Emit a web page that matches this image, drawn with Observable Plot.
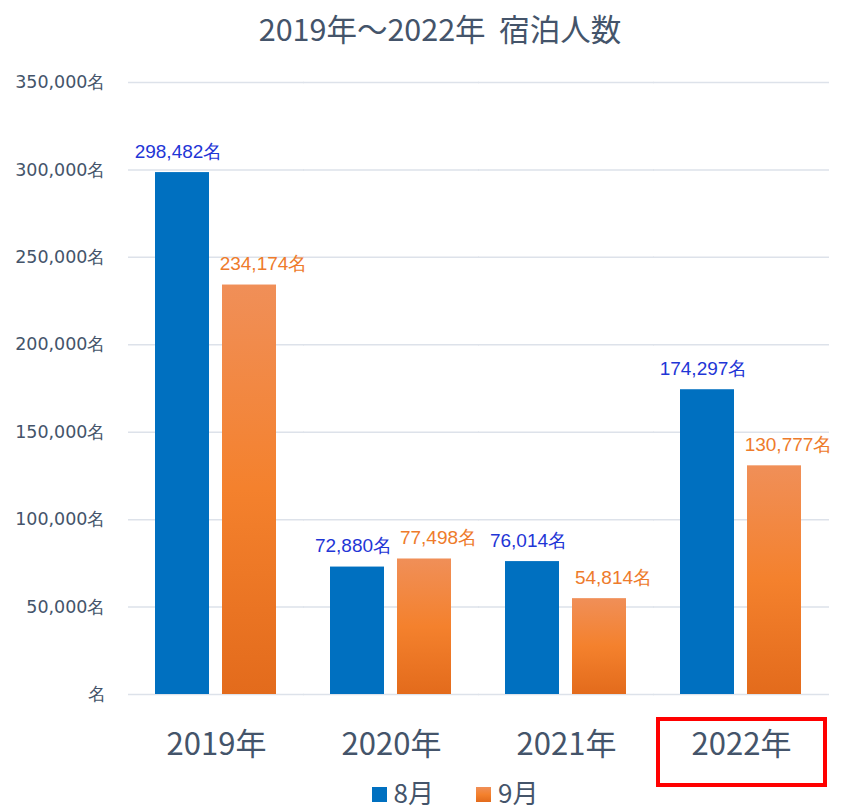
<!DOCTYPE html>
<html>
<head>
<meta charset="utf-8">
<script src="https://cdn.jsdelivr.net/npm/d3@7"></script>
<script src="https://cdn.jsdelivr.net/npm/@observablehq/plot@0.6"></script>
<style>
  html, body { margin: 0; padding: 0; background: #fff; }
  #wrap { position: relative; width: 850px; height: 812px; overflow: hidden; }
  #title { position: absolute; left: 0; top: 0; width: 850px; height: 56px; line-height: 56px;
    text-align: center; padding-left: 30px; box-sizing: border-box;
    font-family: "Noto Sans CJK JP", sans-serif; font-size: 30.5px; color: #44546a; white-space: pre; }
  #chart { position: absolute; left: 0; top: 56px; }
  #chart svg [aria-label^="y-axis"] text { font-family: "DejaVu Sans", sans-serif; font-size: 17.5px; fill: #44546a; }
  #chart svg [aria-label^="fx-axis"] text { font-family: "Noto Sans CJK JP", sans-serif; font-size: 31px; fill: #44546a; }
  #legend { position: absolute; left: 0; top: 778px; width: 850px; height: 28px; display: flex;
    align-items: center; justify-content: center; padding-left: 60px; box-sizing: border-box;
    font-family: "Noto Sans CJK JP", sans-serif; font-size: 26px; color: #44546a; }
  .item { display: flex; align-items: center; margin: 0 21px; height: 28px; }
  .item span { display: block; line-height: 26px; height: 26px; }
  .sw { width: 15px; height: 15px; margin-right: 7px; margin-top: 4px; }
</style>
</head>
<body>
<div id="wrap">
  <div id="title"></div>
  <div id="chart"></div>
  <div id="legend"></div>
</div>
<script>
const titleText = "2019年〜2022年  宿泊人数";
const years = ["2019年", "2020年", "2021年", "2022年"];
const months = ["8月", "9月"];
const aug = [298482, 72880, 76014, 174297];
const sep = [234174, 77498, 54814, 130777];
const yTicks = [0, 50000, 100000, 150000, 200000, 250000, 300000, 350000];
const highlightYear = "2022年";

const blue = "#0070c0";
const labelBlue = "#1f36d6";
const labelOrange = "#ee7b2b";

const rows = [];
years.forEach((y, i) => {
  rows.push({year: y, month: months[0], value: aug[i]});
  rows.push({year: y, month: months[1], value: sep[i]});
});
const fmt = d3.format(",");
const tickFmt = d => (d === 0 ? "" : fmt(d)) + "名";

document.getElementById("title").textContent = titleText;

const plot = Plot.plot({
  width: 850,
  height: 733,
  marginTop: 26,
  marginBottom: 95,
  marginLeft: 128,
  marginRight: 20,
  style: {background: "transparent", color: "#44546a", overflow: "visible"},
  fx: {domain: years, paddingInner: 0.3, paddingOuter: 0.15, label: null, tickSize: 0, tickPadding: 38},
  x: {domain: months, paddingInner: 0.19, paddingOuter: 0, axis: null},
  y: {domain: [0, 350000], ticks: yTicks, tickFormat: tickFmt, tickSize: 0, tickPadding: 50, label: null},
  marks: [
    Plot.ruleY(yTicks, {stroke: "#dde2ea", strokeWidth: 1.5, insetLeft: -27, insetRight: -27}),
    Plot.barY(rows.filter(d => d.month === months[0]), {fx: "year", x: "month", y: "value", fill: blue}),
    Plot.barY(rows.filter(d => d.month === months[1]), {fx: "year", x: "month", y: "value", fill: "url(#og)"}),
    Plot.text(rows.filter(d => d.month === months[0]), {fx: "year", x: "month", y: "value", text: d => fmt(d.value) + "名",
      dy: -21, dx: -4, fill: labelBlue, fontSize: 19, fontFamily: "Liberation Sans, Arial, sans-serif"}),
    Plot.text(rows.filter(d => d.month === months[1]), {fx: "year", x: "month", y: "value", text: d => fmt(d.value) + "名",
      dy: -21, dx: 14, fill: labelOrange, fontSize: 19, fontFamily: "Liberation Sans, Arial, sans-serif"}),
    Plot.rect([{year: highlightYear}], {fx: "year", y1: 0, y2: 0, fill: "none", stroke: "#ff0000", strokeWidth: 4,
      insetLeft: -22, insetRight: -23, insetTop: 25, insetBottom: -91})
  ]
});

const svg = plot.tagName.toLowerCase() === "svg" ? plot : plot.querySelector("svg");
const defs = d3.select(svg).insert("defs", ":first-child");
const g = defs.append("linearGradient").attr("id", "og").attr("x1", 0).attr("y1", 0).attr("x2", 0).attr("y2", 1);
g.append("stop").attr("offset", "0%").attr("stop-color", "#f08f58");
g.append("stop").attr("offset", "50%").attr("stop-color", "#f4812d");
g.append("stop").attr("offset", "100%").attr("stop-color", "#e36b1c");
document.getElementById("chart").appendChild(plot);

const legend = document.getElementById("legend");
[[months[0], blue], [months[1], "linear-gradient(#f08f58, #f4812d, #e36b1c)"]].forEach(([m, c]) => {
  const it = document.createElement("div"); it.className = "item";
  const sw = document.createElement("div"); sw.className = "sw"; sw.style.background = c;
  const t = document.createElement("span"); t.textContent = m;
  it.appendChild(sw); it.appendChild(t); legend.appendChild(it);
});
</script>
</body>
</html>
